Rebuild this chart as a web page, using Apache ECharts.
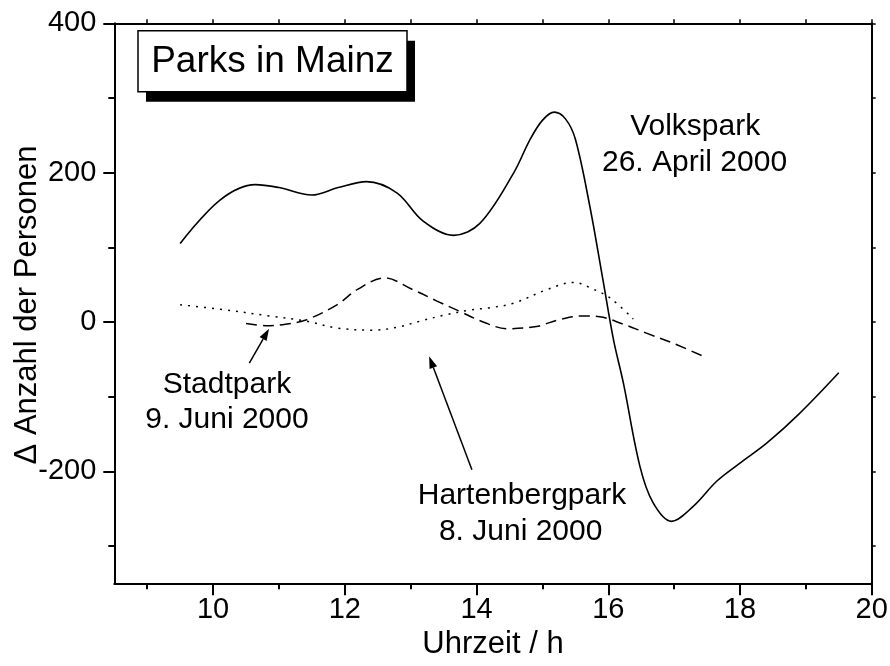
<!DOCTYPE html>
<html>
<head>
<meta charset="utf-8">
<script src="https://cdn.jsdelivr.net/npm/echarts@6/dist/echarts.min.js"></script>
<style>
  html, body { margin: 0; padding: 0; background: #fff; }
  #chart { width: 890px; height: 666px; }
</style>
</head>
<body>
<div id="chart"></div>
<script>
// Visitor counts (change vs. reference) in three parks of Mainz, by hour of day
const volksparkHour  = [9.5, 10.1, 10.64, 11.0, 11.5, 11.9, 12.33, 12.79, 13.19, 13.65, 14.05, 14.56, 14.81, 15.0, 15.18, 15.35, 15.5, 15.72, 15.92, 16.08, 16.23, 16.48, 16.68, 16.96, 17.29, 17.65, 18.0, 18.41, 18.91, 19.5];
const volksparkDelta = [105, 163, 184, 180, 170, 180, 188, 173, 135, 116, 132, 199, 244, 270, 281, 272, 245, 155, 56, -24, -82, -193, -242, -267, -247, -213, -189, -162, -122, -68];

const stadtparkHour  = [10.5, 10.8, 11.1, 11.42, 11.88, 12.2, 12.6, 13.04, 13.4, 13.75, 14.1, 14.46, 14.91, 15.25, 15.6, 15.87, 16.2, 16.58, 17.0, 17.47];
const stadtparkDelta = [-2, -5, -3, 3, 23, 44, 59, 43, 28, 14, 0, -9, -6, 3, 8, 7, -2, -15, -29, -47];

const hartenbergHour  = [9.5, 10.11, 10.86, 11.42, 11.88, 12.43, 12.8, 13.14, 13.5, 13.9, 14.2, 14.56, 15.06, 15.47, 15.77, 16.03, 16.38];
const hartenbergDelta = [23, 17, 8, 1, -8, -11, -7, 1, 9, 16, 19, 25, 43, 53, 44, 32, 4];

// Axis ticks
const xLabelTicks = [10, 12, 14, 16, 18, 20];
const xMinorTicks = [9, 11, 13, 15, 17, 19];
const xTopTicks   = [9, 10, 11, 12, 13, 14, 15, 16, 17, 18, 19, 20];
const yLabelTicks = [-200, 0, 200, 400];
const yMinorTicks = [-300, -100, 100, 300];
const yRightTicks = [-300, -200, -100, 0, 100, 200, 300, 400];

const FONT = '"Liberation Sans", Arial, sans-serif';

const pairs = (xs, ys) => xs.map((x, i) => [x, ys[i]]);

const chart = echarts.init(document.getElementById('chart'), null, { renderer: 'canvas' });

const baseX = { type: 'value', min: 8.5, max: 20, splitLine: { show: false } };
const baseY = { type: 'value', min: -350, max: 400, splitLine: { show: false } };
const line2 = { show: true, onZero: false, lineStyle: { color: '#000', width: 2 } };
const noLine = { show: false, onZero: false };

chart.setOption({
  animation: false,
  backgroundColor: '#fff',
  grid: { left: 114.3, right: 18.3, top: 23.3, bottom: 82.7, containLabel: false, outerBoundsMode: 'none' },
  xAxis: [
    Object.assign({}, baseX, {
      position: 'bottom',
      axisLine: line2,
      axisTick: { show: true, inside: false, length: 12, customValues: xLabelTicks, lineStyle: { color: '#000', width: 2 } },
      axisLabel: { show: true, customValues: xLabelTicks, color: '#000', fontFamily: FONT, fontSize: 29, margin: 12 },
      name: 'Uhrzeit / h', nameLocation: 'middle', nameGap: 42,
      nameTextStyle: { color: '#000', fontFamily: FONT, fontSize: 31 }
    }),
    Object.assign({}, baseX, {
      position: 'bottom', offset: 0,
      axisLine: noLine,
      axisTick: { show: true, inside: false, length: 6, customValues: xMinorTicks, lineStyle: { color: '#000', width: 2 } },
      axisLabel: { show: false }
    }),
    Object.assign({}, baseX, {
      position: 'top',
      axisLine: line2,
      axisTick: { show: true, inside: false, length: 4, customValues: xTopTicks, lineStyle: { color: '#000', width: 1.5 } },
      axisLabel: { show: false }
    })
  ],
  yAxis: [
    Object.assign({}, baseY, {
      position: 'left',
      axisLine: line2,
      axisTick: { show: true, inside: false, length: 11, customValues: yLabelTicks, lineStyle: { color: '#000', width: 2 } },
      axisLabel: { show: true, customValues: yLabelTicks, color: '#000', fontFamily: FONT, fontSize: 29, margin: 18 }
    }),
    Object.assign({}, baseY, {
      position: 'left', offset: 0,
      axisLine: noLine,
      axisTick: { show: true, inside: false, length: 6, customValues: yMinorTicks, lineStyle: { color: '#000', width: 2 } },
      axisLabel: { show: false }
    }),
    Object.assign({}, baseY, {
      position: 'right',
      axisLine: line2,
      axisTick: { show: true, inside: false, length: 4, customValues: yRightTicks, lineStyle: { color: '#000', width: 1.5 } },
      axisLabel: { show: false }
    })
  ],
  series: [
    {
      name: 'Volkspark', type: 'line', xAxisIndex: 0, yAxisIndex: 0,
      data: pairs(volksparkHour, volksparkDelta), smooth: 0.35, showSymbol: false,
      lineStyle: { color: '#000', width: 1.6, type: 'solid' }
    },
    {
      name: 'Stadtpark', type: 'line', xAxisIndex: 0, yAxisIndex: 0,
      data: pairs(stadtparkHour, stadtparkDelta), smooth: 0.35, showSymbol: false,
      lineStyle: { color: '#000', width: 1.5, type: [11, 6] }
    },
    {
      name: 'Hartenbergpark', type: 'line', xAxisIndex: 0, yAxisIndex: 0,
      data: pairs(hartenbergHour, hartenbergDelta), smooth: 0.35, showSymbol: false,
      lineStyle: { color: '#000', width: 1.5, type: [2, 6] }
    }
  ]
});

// Annotations placed in data space: text labels and arrows
const notes = [
  { text: 'Volkspark',      at: [17.32, 261] },
  { text: '26. April 2000', at: [17.31, 213] },
  { text: 'Stadtpark',      at: [10.21, -84] },
  { text: '9. Juni 2000',   at: [10.21, -131] },
  { text: 'Hartenbergpark', at: [14.69, -233] },
  { text: '8. Juni 2000',   at: [14.67, -281] }
];
const arrows = [
  { from: [10.55, -55], to: [10.85, -9] },
  { from: [13.93, -198], to: [13.28, -46] }
];

const px = p => chart.convertToPixel({ xAxisIndex: 0, yAxisIndex: 0 }, p);
const graphics = [];

notes.forEach(n => {
  const [x, y] = px(n.at);
  graphics.push({
    type: 'text', x: x, y: y, silent: true,
    style: { text: n.text, fill: '#000', font: '30px ' + FONT, textAlign: 'center', textVerticalAlign: 'middle' }
  });
});

arrows.forEach(a => {
  const [x1, y1] = px(a.from);
  const [x2, y2] = px(a.to);
  const ang = Math.atan2(y2 - y1, x2 - x1);
  const L = 12, W = 4;
  const bx = x2 - L * Math.cos(ang), by = y2 - L * Math.sin(ang);
  const nx = -Math.sin(ang), ny = Math.cos(ang);
  graphics.push({
    type: 'line', silent: true,
    shape: { x1: x1, y1: y1, x2: bx, y2: by },
    style: { stroke: '#000', lineWidth: 1.5 }
  });
  graphics.push({
    type: 'polygon', silent: true,
    shape: { points: [[x2, y2], [bx + nx * W, by + ny * W], [bx - nx * W, by - ny * W]] },
    style: { fill: '#000' }
  });
});

// Vertical axis title
graphics.push({
  type: 'text', silent: true, x: 27, y: 305, rotation: Math.PI / 2,
  style: { text: '\u0394 Anzahl der Personen', fill: '#000', font: '31px ' + FONT, textAlign: 'center', textVerticalAlign: 'middle' }
});

// Title box with drop shadow
graphics.push({ type: 'rect', silent: true, shape: { x: 146, y: 40.7, width: 269, height: 61 }, style: { fill: '#000' } });
graphics.push({ type: 'rect', silent: true, shape: { x: 138, y: 30.7, width: 269, height: 61 }, style: { fill: '#fff', stroke: '#000', lineWidth: 1.5 } });
graphics.push({
  type: 'text', silent: true, x: 272.5, y: 61.5,
  style: { text: 'Parks in Mainz', fill: '#000', font: '37px ' + FONT, textAlign: 'center', textVerticalAlign: 'middle' }
});

chart.setOption({ graphic: graphics });
</script>
</body>
</html>
